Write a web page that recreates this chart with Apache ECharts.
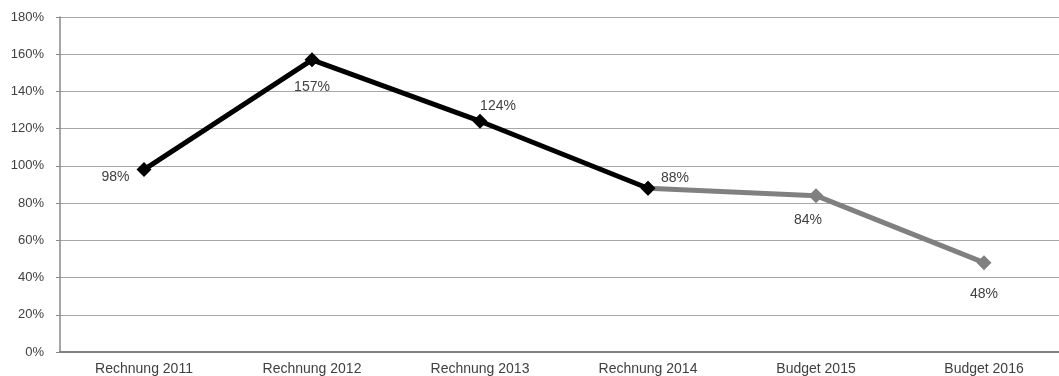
<!DOCTYPE html>
<html><head><meta charset="utf-8">
<script src="https://cdn.jsdelivr.net/npm/echarts@6/dist/echarts.min.js"></script>
<style>html,body{margin:0;padding:0;background:#fff;overflow:hidden}#c{width:1070px;height:376px}</style>
</head><body><div id="c"></div>
<script>
const categories = ['Rechnung 2011','Rechnung 2012','Rechnung 2013','Rechnung 2014','Budget 2015','Budget 2016'];
const rechnungValues = [98, 157, 124, 88, null, null];
const budgetValues = [null, null, null, 88, 84, 48];
const yTicks = [0, 20, 40, 60, 80, 100, 120, 140, 160, 180];

const labelFont = {fontFamily: 'Liberation Sans, Arial, sans-serif', fontSize: 14, color: '#404040'};
const rLabels = [
  {position: 'left', distance: 7, offset: [0, 8]},
  {position: 'bottom', distance: 13, offset: [0, 0]},
  {position: 'top', distance: 1, offset: [18, 0]},
  {position: 'top', distance: 0, offset: [27, 4]}
];
const bLabels = [
  null, null, null, null,
  {position: 'bottom', distance: 10, offset: [-8, 0]},
  {position: 'bottom', distance: 17, offset: [0, 0]}
];

const chart = echarts.init(document.getElementById('c'));
chart.setOption({
  animation: false,
  grid: {left: 60, right: 2, top: 17, bottom: 23, containLabel: false},
  xAxis: {
    type: 'category', data: categories, boundaryGap: true,
    axisLine: {lineStyle: {color: '#808080', width: 2}},
    axisTick: {show: false},
    axisLabel: Object.assign({margin: 10, interval: 0}, labelFont)
  },
  yAxis: {
    type: 'value', min: 0, max: 180, interval: 20,
    axisLine: {show: true, lineStyle: {color: '#888', width: 1.5}},
    axisTick: {show: true, length: 4, lineStyle: {color: '#888'}},
    splitLine: {lineStyle: {color: '#a6a6a6', width: 1}},
    axisLabel: Object.assign({margin: 16, formatter: v => v + '%'}, labelFont, {fontSize: 13})
  },
  series: [
    {
      type: 'line', z: 2,
      lineStyle: {color: '#808080', width: 5},
      itemStyle: {color: '#808080'},
      symbol: 'diamond', symbolSize: 15, showAllSymbol: true,
      data: budgetValues.map((v, i) => {
        const o = {value: v};
        if (bLabels[i]) o.label = Object.assign({show: true, formatter: '{c}%'}, labelFont, bLabels[i]);
        return o;
      })
    },
    {
      type: 'line', z: 3,
      lineStyle: {color: '#000', width: 5},
      itemStyle: {color: '#000'},
      symbol: 'diamond', symbolSize: 15, showAllSymbol: true,
      data: rechnungValues.map((v, i) => {
        const o = {value: v};
        if (rLabels[i]) o.label = Object.assign({show: true, formatter: '{c}%'}, labelFont, rLabels[i]);
        return o;
      })
    }
  ]
});
</script></body></html>
